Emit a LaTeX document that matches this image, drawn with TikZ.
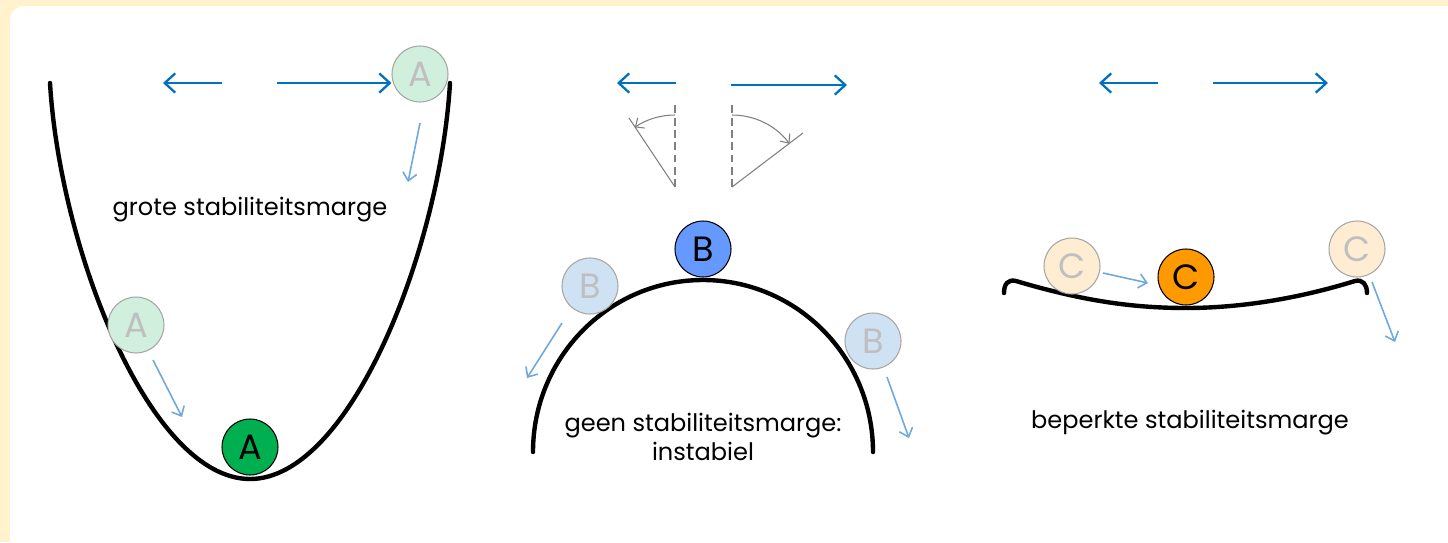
\documentclass[tikz,border=0pt]{standalone}
\usepackage{fontspec}
\setmainfont{Poppins}
\usetikzlibrary{arrows.meta, positioning}
\definecolor{cream}{HTML}{FFF2CC}
\definecolor{moveblue}{HTML}{0070C0}
\definecolor{rollblue}{HTML}{6FA8DC}
\definecolor{ballA}{HTML}{00B050}
\definecolor{ghostA}{HTML}{D0EFDD}
\definecolor{ballB}{HTML}{6699FF}
\definecolor{ghostB}{HTML}{CFE2F3}
\definecolor{ballC}{HTML}{FF9900}
\definecolor{ghostC}{HTML}{FFEDD3}
\tikzset{
	ball/.style={circle, draw=black, line width=0.6pt, minimum size=1.12cm,
		inner sep=0pt, font=\fontsize{20}{22}\selectfont},
	ghost/.style={ball, draw=gray!70, text=gray!50},
	surface/.style={line width=2.5pt, line cap=round},
	push/.style={-{Straight Barb[length=6pt, width=11pt]}, moveblue, line width=1.3pt},
	roll/.style={-{Straight Barb[length=4.5pt, width=8pt]}, rollblue, line width=0.9pt},
	tilt/.style={gray, line width=0.6pt},
	caption/.style={font=\fontsize{13.7}{16.5}\selectfont, align=center}
}

\begin{document}
\begin{tikzpicture}[x=0.02cm, y=-0.02cm]
	\useasboundingbox (0,0) rectangle (1448,542);
	\fill[cream] (0,0) rectangle (1448,542);
	\fill[white] (1448,548) -- (10,548) [rounded corners=8pt] -- (10,6)
	[sharp corners] -- (1448,6) -- cycle;
	
	%% A: valley
	\draw[surface] (50,83) .. controls (60,250) and (150,479) .. (250,479)
	.. controls (350,479) and (440,250) .. (450,83);
	\node[ball, fill=ballA] (A) at (250,447) {A};
	\node[ghost, fill=ghostA] (Atop) at (420,74) {A};
	\node[ghost, fill=ghostA] (Aside) at (136,325) {A};
	\node[caption] (Atext) at (250,210) {grote stabiliteitsmarge};
	
	\coordinate (A-l1) at (222,83);
	\coordinate (A-l2) at (163,83);
	\coordinate (A-r1) at (277,83);
	\draw[push] (A-l1) -- (A-l2);
	\draw[push] (A-r1) -- (A-r1 -| Atop.west);
	
	\coordinate (Atop-s) at (420,123);
	\coordinate (Atop-e) at (408,182);
	\coordinate (Aside-s) at (153,360);
	\coordinate (Aside-e) at (182,417);
	\draw[roll] (Atop-s) -- (Atop-e);
	\draw[roll] (Aside-s) -- (Aside-e);
	
	%% B: hilltop
	\draw[surface] (533,452) arc[start angle=180, end angle=360,
	x radius=170, y radius=172];
	\node[ball, fill=ballB] (B) at (703,249) {B};
	\node[ghost, fill=ghostB] (Bleft) at (590,286) {B};
	\node[ghost, fill=ghostB] (Bright) at (873,341) {B};
	\node[caption] (Btext) at (703,437) {geen stabiliteitsmarge:\\instabiel};
	
	\coordinate (B-l1) at (676,83);
	\coordinate (B-l2) at (617,83);
	\coordinate (B-r1) at (731,85);
	\coordinate (B-r2) at (847,85);
	\draw[push] (B-l1) -- (B-l2);
	\draw[push] (B-r1) -- (B-r2);
	
	%% tilt angles
	\coordinate (pivL) at (675,187);
	\coordinate (pivR) at (732,187);
	\draw[tilt, dash pattern=on 4.5pt off 2.5pt] (pivL) -- ++(0,-85);
	\draw[tilt, dash pattern=on 4.5pt off 2.5pt] (pivR) -- ++(0,-85);
	\draw[tilt] (pivL) -- ++(-46,-69);
	\draw[tilt] (pivR) -- ++(71,-54);
	\draw[tilt, -{Straight Barb[length=4pt, width=7pt]}] (pivL) ++(0,-72)
	arc[start angle=-90, end angle=-124, radius=72];
	\draw[tilt, -{Straight Barb[length=4pt, width=7pt]}] (pivR) ++(0,-72)
	arc[start angle=-90, end angle=-37, radius=72];
	
	\coordinate (Bleft-s) at (562,323);
	\coordinate (Bleft-e) at (527,378);
	\coordinate (Bright-s) at (887,377);
	\coordinate (Bright-e) at (909,438);
	\draw[roll] (Bleft-s) -- (Bleft-e);
	\draw[roll] (Bright-s) -- (Bright-e);
	
	%% C: shallow dish
	\draw[surface] (1004,293) .. controls (1004,284) and (1008,279) .. (1016,281)
	.. controls (1080,300) and (1130,308) .. (1186,308)
	.. controls (1242,308) and (1300,298) .. (1355,281)
	.. controls (1363,279) and (1367,285) .. (1367,293);
	\node[ball, fill=ballC] (C) at (1186,277) {C};
	\node[ghost, fill=ghostC] (Cleft) at (1072,266) {C};
	\node[ghost, fill=ghostC] (Cright) at (1357,249) {C};
	\node[caption] (Ctext) at (1190,423) {beperkte stabiliteitsmarge};
	
	\coordinate (C-l1) at (1158,83);
	\coordinate (C-l2) at (1099,83);
	\coordinate (C-r1) at (1213,83);
	\coordinate (C-r2) at (1328,83);
	\draw[push] (C-l1) -- (C-l2);
	\draw[push] (C-r1) -- (C-r2);
	
	\coordinate (Cleft-s) at (1103,273);
	\coordinate (Cleft-e) at (1148,283);
	\coordinate (Cright-s) at (1372,282);
	\coordinate (Cright-e) at (1395,342);
	\draw[roll] (Cleft-s) -- (Cleft-e);
	\draw[roll] (Cright-s) -- (Cright-e);
\end{tikzpicture}
\end{document}
